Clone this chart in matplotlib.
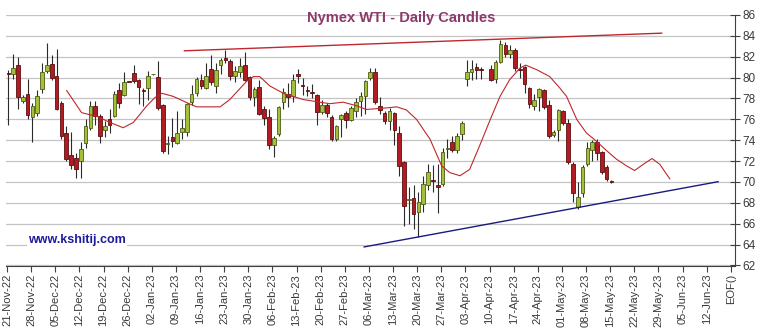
import numpy as np
import pandas as pd
import matplotlib
matplotlib.use("Agg")
import matplotlib.pyplot as plt

plt.rcParams['font.family'] = ['Liberation Sans', 'DejaVu Sans']

# trading days (weekday index from 21-Nov-22), Good Friday has no candle
days = pd.bdate_range('2022-11-21', '2023-05-15').drop(pd.Timestamp('2023-04-07'))

opens = [80.45, 80.3, 81.2, 77.8, 78.4, 76.2, 76.6, 78.9, 80.6, 81.3,
         80.2, 77.6, 74.7, 72.6, 72.3, 72.0, 73.7, 75.2, 77.3, 76.3,
         75.0, 76.0, 76.3, 78.8, 78.3, 79.65, 80.4, 79.8, 78.8, 79.0,
         80.3, 80.1, 77.4, 73.6, 74.3, 73.7, 74.8, 74.8, 77.7, 78.5,
         79.8, 79.0, 80.8, 79.2, 81.2, 81.9, 81.6, 80.2, 80.5, 81.2,
         80.1, 78.1, 79.1, 77.0, 76.2, 73.5, 74.6, 77.7, 78.45, 78.2,
         80.3, 79.3, 78.8, 78.6, 78.3, 76.7, 77.4, 76.2, 74.1, 76.0,
         76.6, 75.9, 76.8, 77.8, 78.2, 80.0, 80.5, 77.3, 76.6, 75.8,
         76.6, 74.7, 71.9, 68.3, 68.45, 67.1, 67.9, 69.7, 70.2, 69.7,
         69.8, 73.2, 73.8, 73.1, 74.6, 79.9, 80.5, 81.0, 80.8,
         80.8, 79.9, 81.5, 83.1, 82.3, 82.6, 80.8, 81.0, 79.0, 77.3,
         78.1, 78.8, 77.4, 74.5, 75.0, 76.8, 75.7, 71.7, 67.6, 68.9,
         71.7, 73.1, 73.8, 72.9, 71.4, 70.1]
highs = [80.7, 82.3, 82.0, 78.3, 79.9, 77.6, 78.8, 81.4, 83.3, 82.2,
         82.7, 77.8, 75.4, 74.8, 72.8, 73.8, 76.0, 77.8, 77.8, 76.5,
         75.8, 77.0, 78.7, 79.5, 80.5, 79.7, 81.2, 79.9, 79.0, 80.6,
         80.35, 81.6, 77.5, 74.4, 76.1, 76.8, 76.0, 77.6, 79.3, 80.1,
         80.3, 81.4, 82.2, 81.4, 81.9, 82.6, 81.8, 81.1, 81.9, 82.5,
         80.2, 79.1, 79.8, 77.3, 77.0, 74.4, 77.3, 79.0, 79.5, 80.3,
         80.8, 80.0, 79.2, 79.4, 78.4, 77.9, 77.6, 76.4, 75.5, 76.5,
         76.8, 77.3, 78.0, 78.6, 79.8, 80.9, 80.9, 78.1, 76.8, 77.1,
         76.7, 75.4, 72.0, 69.5, 69.7, 69.0, 70.6, 71.7, 71.6, 71.7,
         73.3, 74.1, 74.4, 74.7, 75.8, 81.7, 81.7, 81.4, 81.0,
         81.2, 81.7, 83.6, 83.4, 83.1, 82.8, 81.4, 81.1, 79.1, 78.4,
         79.0, 78.9, 77.9, 75.0, 77.0, 76.9, 76.0, 71.9, 70.0, 71.6,
         73.8, 74.0, 74.1, 73.0, 71.6, 70.2]
lows = [75.5, 79.9, 77.0, 77.6, 76.0, 73.8, 76.3, 78.5, 80.4, 79.8,
        76.9, 74.1, 72.0, 71.2, 70.4, 70.4, 73.3, 75.0, 75.5, 73.7,
        74.3, 74.7, 76.2, 77.1, 78.2, 79.6, 79.5, 77.5, 77.3, 77.9,
        80.25, 76.9, 72.8, 72.7, 73.4, 73.6, 74.1, 74.4, 77.4, 78.2,
        78.9, 78.9, 79.3, 78.5, 80.3, 81.4, 79.8, 79.6, 80.1, 79.7,
        77.9, 77.3, 76.4, 75.5, 73.2, 72.4, 74.4, 77.0, 77.2, 77.7,
        79.5, 78.3, 78.2, 78.0, 75.5, 76.5, 76.2, 73.9, 73.9, 74.3,
        75.2, 75.8, 76.2, 76.3, 76.5, 79.8, 77.5, 76.5, 75.6, 75.0,
        73.5, 70.6, 65.8, 66.0, 65.5, 64.7, 67.1, 69.2, 69.0, 67.0,
        69.6, 72.3, 72.9, 72.8, 74.0, 79.2, 79.8, 79.9, 79.9,
        79.7, 79.5, 81.4, 82.0, 81.9, 80.6, 80.0, 78.5, 77.1, 76.9,
        76.8, 77.0, 74.2, 74.3, 73.9, 75.5, 71.7, 68.1, 67.4, 68.6,
        71.5, 72.0, 72.1, 70.8, 70.1, 69.9]
closes = [80.35, 80.9, 78.1, 78.1, 76.4, 77.3, 78.2, 80.5, 81.2, 80.0,
          77.0, 74.4, 72.2, 71.6, 71.2, 73.2, 75.4, 77.3, 76.3, 74.4,
          75.4, 75.5, 78.4, 77.6, 79.6, 79.6, 79.65, 79.1, 78.7, 80.2,
          80.3, 77.1, 73.0, 73.7, 73.9, 74.7, 75.2, 77.5, 78.4, 79.9,
          79.2, 80.2, 79.6, 80.7, 81.7, 81.7, 80.2, 80.6, 81.1, 79.8,
          78.1, 78.9, 76.5, 76.1, 73.5, 74.2, 77.2, 78.6, 78.1, 79.8,
          80.2, 79.2, 78.7, 78.5, 76.7, 77.4, 76.6, 74.1, 75.4, 76.4,
          75.9, 77.1, 77.7, 78.2, 79.7, 80.5, 77.7, 76.9, 75.8, 76.8,
          75.0, 71.5, 67.7, 68.4, 66.9, 68.1, 69.8, 71.0, 70.1, 69.5,
          72.9, 73.3, 73.1, 74.4, 75.7, 80.5, 80.8, 80.7, 80.7,
          79.8, 81.5, 83.2, 82.3, 82.6, 80.9, 80.75, 79.4, 77.5, 77.9,
          78.9, 77.2, 74.4, 74.8, 76.9, 75.7, 71.9, 68.9, 68.6, 71.4,
          73.3, 73.8, 72.8, 71.0, 70.3, 70.0]

# moving average line (day position, price)
ma_pos = [12.1, 15.2, 18.3, 21.1, 23.8, 25.9, 28.7, 30.4, 31.8, 34.2,
          37.0, 39.0, 43.9, 45.9, 49.4, 50.8, 52.1, 54.2, 57.0, 59.0,
          61.1, 63.9, 66.6, 69.4, 72.2, 74.2, 78.4, 80.5, 82.5, 84.6,
          87.4, 89.8, 91.5, 93.6, 95.6, 97.7, 99.8, 101.9, 103.9, 106.0,
          107.2, 109.5, 112.2, 114.3, 115.7, 117.8, 119.8, 121.9, 124.0, 126.0,
          128.1, 129.8, 131.6, 133.4, 135.0, 137.1]
ma_val = [78.76, 76.64, 76.3, 75.7, 75.2, 75.7, 77.3, 78.1, 78.5, 78.2,
          77.6, 77.2, 77.2, 77.9, 79.65, 80.1, 80.1, 79.2, 78.5, 78.2,
          77.9, 77.7, 77.5, 77.65, 77.3, 76.95, 77.1, 77.2, 76.9, 76.0,
          74.1, 71.55, 70.9, 70.6, 71.2, 73.5, 75.9, 78.2, 79.8, 80.9,
          81.2, 80.76, 80.1, 79.0, 78.2, 76.0, 74.7, 73.9, 73.0, 72.2,
          71.55, 71.1, 71.7, 72.25, 71.7, 70.3]

# trendlines (day position, price)
resist_pos = [36.5, 135.4]
resist_val = [82.57, 84.26]
support_pos = [73.75, 147.1]
support_val = [63.78, 70.03]

tick_dates = pd.date_range('2022-11-21', '2023-06-12', freq='W-MON')
tick_labels = [d.strftime('%d-%b-%y') for d in tick_dates] + ['EOF()']

x = np.busday_count(np.datetime64('2022-11-21'),
                    days.values.astype('datetime64[D]'))
o = np.array(opens)
h = np.array(highs)
l = np.array(lows)
c = np.array(closes)

fig = plt.figure(figsize=(7.62, 3.32), dpi=100)
ax = fig.add_axes([6 / 762, 1 - 265.5 / 332, 729 / 762, 250.5 / 332])

ax.set_xlim(-0.48, 150.6)
ax.set_ylim(62, 86)
ax.yaxis.tick_right()
ax.set_yticks(range(62, 87, 2))
ax.grid(axis='y', color='#c4c4c4', lw=0.9)
ax.set_axisbelow(True)
for s in ['top', 'left']:
    ax.spines[s].set_visible(False)
ax.spines['bottom'].set_color('#404040')
ax.spines['right'].set_color('#404040')

ax.set_xticks(np.arange(len(tick_labels)) * 5 - 0.27)
ax.set_xticklabels(tick_labels, rotation=90, fontsize=8, color='#3a3a3a')
ax.tick_params(axis='x', direction='out', length=4, color='#404040', pad=2)
ax.tick_params(axis='y', direction='inout', length=7, color='#404040',
               labelsize=8.5, labelcolor='#3a3a3a', pad=2)

# candles
up = c >= o
ax.vlines(x, l, h, color='#2b2b2b', lw=0.8, zorder=2)
body = np.maximum(np.abs(c - o), 0.09)
bottom = np.minimum(o, c)
ax.bar(x[up], body[up], bottom=bottom[up], width=0.75,
       color='#a2c03a', edgecolor='#4f5c16', lw=0.6, zorder=3)
ax.bar(x[~up], body[~up], bottom=bottom[~up], width=0.75,
       color='#b01c22', edgecolor='#5c0e10', lw=0.6, zorder=3)

ax.plot(ma_pos, ma_val, color='#c0282d', lw=0.8, zorder=4)
ax.plot(resist_pos, resist_val, color='#c0282d', lw=1.0, zorder=4)
ax.plot(support_pos, support_val, color='#1a1a80', lw=1.0, zorder=4)

fig.text(401 / 762, 1 - 18 / 332, 'Nymex WTI - Daily Candles', ha='center',
         va='center', fontsize=10.5, fontweight='bold', color='#8b3a6b')
fig.text(28 / 762, 1 - 240 / 332, 'www.kshitij.com', ha='left', va='center',
         fontsize=9, fontweight='bold', color='#1c1c9c',
         bbox=dict(facecolor='white', edgecolor='none', pad=1))

fig.savefig('out.png', dpi=100)
